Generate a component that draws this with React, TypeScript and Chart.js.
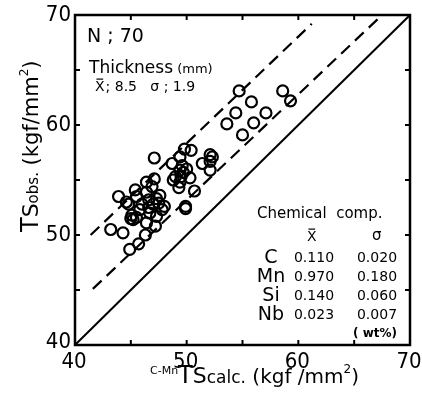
import React, { useEffect, useRef } from "react";
import { Chart, registerables } from "chart.js";

Chart.register(...registerables);

// ---- data ----
const calcTS: number[] = [
  54.7, 58.6, 59.3, 55.8, 54.4, 57.1, 53.6, 56.0, 55.0, 49.8,
  50.4, 47.1, 49.4, 52.1, 52.3, 48.7, 51.4, 49.6, 49.4, 49.0,
  49.5, 52.1, 50.3, 49.4, 49.3, 50.7, 47.1, 46.4, 45.4, 46.4,
  43.9, 44.6, 45.5, 46.6, 47.3, 47.5, 47.8, 45.8, 45.1, 45.2,
  46.7, 47.3, 46.4, 47.2, 49.9, 49.9, 43.2, 44.3, 46.3, 45.7,
  44.9, 52.1, 46.9, 45.5, 47.0, 46.6, 44.8, 48.8, 49.7, 50.0,
  46.0, 47.6, 45.0, 48.0,
];
const obsTS: number[] = [
  63.1, 63.1, 62.2, 62.1, 61.1, 61.1, 60.1, 60.2, 59.1, 57.8,
  57.7, 57.0, 57.1, 57.3, 57.1, 56.5, 56.5, 56.3, 55.9, 55.3,
  55.3, 55.9, 55.2, 54.8, 54.3, 54.0, 55.1, 54.8, 54.1, 53.9,
  53.5, 53.0, 53.5, 53.2, 53.3, 52.9, 52.3, 52.3, 51.8, 51.4,
  52.0, 51.7, 51.1, 50.8, 52.6, 52.4, 50.5, 50.2, 50.0, 49.2,
  48.7, 56.7, 54.4, 51.6, 52.8, 52.5, 52.8, 55.0, 55.7, 56.0,
  52.8, 53.6, 51.5, 52.6,
];
const identityX: number[] = [40, 70];
const identityY: number[] = [40, 70];
const upperX: number[] = [41.4, 61.2];
const upperY: number[] = [50, 69.2];
const lowerX: number[] = [41.6, 67.5];
const lowerY: number[] = [45.1, 70];

const axisMin = 40;
const axisMax = 70;
const labelTicks: number[] = [40, 50, 60, 70];
const markTicks: number[] = [45, 50, 55, 60, 65];

const elements: string[] = ["C", "Mn", "Si", "Nb"];
const means: string[] = ["0.110", "0.970", "0.140", "0.023"];
const sigmas: string[] = ["0.020", "0.180", "0.060", "0.007"];

const SANS = '"DejaVu Sans", "Liberation Sans", sans-serif';
const TICKF = '"Liberation Sans Narrow", "DejaVu Sans Condensed", "Liberation Sans", sans-serif';

type Seg = { t: string; s: number; dy?: number; w?: string };

function drawRich(ctx: CanvasRenderingContext2D, segs: Seg[], x: number, y: number) {
  let cx = x;
  for (const sg of segs) {
    ctx.font = `${sg.w || "normal"} ${sg.s}px ${SANS}`;
    ctx.fillText(sg.t, cx, y + (sg.dy || 0));
    cx += ctx.measureText(sg.t).width;
  }
  return cx;
}

function drawXBar(ctx: CanvasRenderingContext2D, x: number, y: number, size: number) {
  ctx.font = `${size}px ${SANS}`;
  ctx.fillText("X", x, y);
  const w = ctx.measureText("X").width;
  ctx.save();
  ctx.lineWidth = 1.2;
  ctx.beginPath();
  ctx.moveTo(x + w * 0.15, y - size * 0.85);
  ctx.lineTo(x + w * 0.85, y - size * 0.85);
  ctx.stroke();
  ctx.restore();
  return w;
}

const decorPlugin = {
  id: "decor",
  afterDraw(chart: any) {
    const ctx: CanvasRenderingContext2D = chart.ctx;
    const xs = chart.scales.x;
    const ys = chart.scales.y;
    const { left, right, top, bottom } = chart.chartArea;
    ctx.save();
    ctx.strokeStyle = "#000";
    ctx.fillStyle = "#000";
    // frame
    ctx.lineWidth = 2.5;
    ctx.strokeRect(left, top, right - left, bottom - top);
    // inward tick marks
    ctx.lineWidth = 2;
    const tl = 5;
    for (const v of markTicks) {
      const px = xs.getPixelForValue(v);
      const py = ys.getPixelForValue(v);
      ctx.beginPath();
      ctx.moveTo(px, bottom); ctx.lineTo(px, bottom - tl);
      ctx.moveTo(px, top); ctx.lineTo(px, top + tl);
      ctx.moveTo(left, py); ctx.lineTo(left + tl, py);
      ctx.moveTo(right, py); ctx.lineTo(right - tl, py);
      ctx.stroke();
    }
    // tick labels
    ctx.font = `22px ${TICKF}`;
    ctx.textAlign = "center";
    ctx.textBaseline = "top";
    for (const v of labelTicks) {
      ctx.fillText(String(v), xs.getPixelForValue(v) - 1, bottom + 6);
    }
    ctx.textAlign = "right";
    ctx.textBaseline = "middle";
    for (const v of labelTicks) {
      const py = ys.getPixelForValue(v) + (v === axisMin ? -3 : 0);
      ctx.fillText(String(v), left - 4, py);
    }
    ctx.textAlign = "left";
    ctx.textBaseline = "alphabetic";
    // x title
    drawRich(ctx, [
      { t: "C-Mn", s: 11, dy: -9 },
      { t: "T", s: 24 },
      { t: "S", s: 22 },
      { t: "calc.", s: 17 },
      { t: " (kgf /mm", s: 20 },
      { t: "2", s: 12, dy: -10 },
      { t: ")", s: 20 },
    ], 150, 383);
    // y title
    ctx.save();
    ctx.translate(38, 232);
    ctx.rotate(-Math.PI / 2);
    drawRich(ctx, [
      { t: "T", s: 24 },
      { t: "S", s: 22 },
      { t: "obs.", s: 15 },
      { t: " (kgf/mm", s: 21 },
      { t: "2", s: 12, dy: -10 },
      { t: ")", s: 21 },
    ], 0, 0);
    ctx.restore();
    // annotations
    drawRich(ctx, [{ t: "N ; 70", s: 19 }], 87, 42);
    drawRich(ctx, [{ t: "Thickness", s: 17 }, { t: " (mm)", s: 13 }], 89, 73);
    let cx = 95;
    cx += drawXBar(ctx, cx, 91, 14);
    drawRich(ctx, [{ t: "; 8.5   σ ; 1.9", s: 14 }], cx + 1, 91);
    drawRich(ctx, [{ t: "Chemical  comp.", s: 15 }], 257, 218);
    drawXBar(ctx, 307, 241, 14);
    drawRich(ctx, [{ t: "σ", s: 15 }], 372, 240);
    const rowY = [263, 282, 301, 320];
    for (let i = 0; i < elements.length; i++) {
      ctx.font = `19px ${SANS}`;
      ctx.textAlign = "center";
      ctx.fillText(elements[i], 271, rowY[i]);
      ctx.font = `14px ${SANS}`;
      ctx.fillText(means[i], 314, rowY[i] - 1);
      ctx.fillText(sigmas[i], 377, rowY[i] - 1);
    }
    ctx.font = `bold 12px ${SANS}`;
    ctx.fillText("( wt%)", 375, 337);
    ctx.restore();
  },
};

export default function App() {
  const ref = useRef<HTMLCanvasElement | null>(null);
  useEffect(() => {
    if (!ref.current) return;
    const pts = calcTS.map((x, i) => ({ x, y: obsTS[i] }));
    const mk = (xs: number[], ys: number[]) => xs.map((x, i) => ({ x, y: ys[i] }));
    const chart = new Chart(ref.current, {
      type: "scatter",
      data: {
        datasets: [
          {
            data: mk(identityX, identityY),
            showLine: true,
            borderColor: "#000",
            borderWidth: 2,
            pointRadius: 0,
          },
          {
            data: mk(upperX, upperY),
            showLine: true,
            borderColor: "#000",
            borderWidth: 2.2,
            borderDash: [12, 7],
            pointRadius: 0,
          },
          {
            data: mk(lowerX, lowerY),
            showLine: true,
            borderColor: "#000",
            borderWidth: 2.2,
            borderDash: [12, 7],
            pointRadius: 0,
          },
          {
            data: pts,
            pointRadius: 5.5,
            pointBorderWidth: 2.2,
            borderColor: "#000",
            backgroundColor: "rgba(0,0,0,0)",
          },
        ],
      },
      options: {
        animation: false,
        responsive: false,
        layout: { padding: { left: 75, right: 12, top: 15, bottom: 49 } },
        plugins: { legend: { display: false }, tooltip: { enabled: false } },
        scales: {
          x: { type: "linear", min: axisMin, max: axisMax, display: false },
          y: { type: "linear", min: axisMin, max: axisMax, display: false },
        },
      },
      plugins: [decorPlugin],
    } as any);
    return () => chart.destroy();
  }, []);
  return (
    <div style={{ position: "fixed", left: 0, top: 0, width: 422, height: 394, background: "#fff" }}>
      <canvas ref={ref} width={422} height={394} />
    </div>
  );
}
